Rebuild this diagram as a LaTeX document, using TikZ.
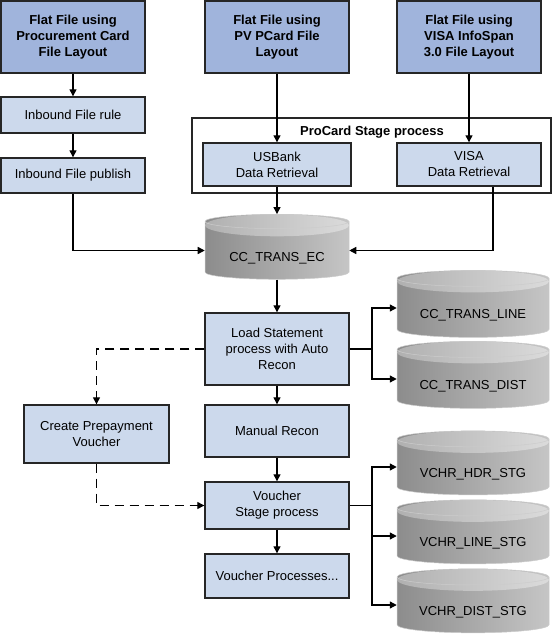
\documentclass[tikz,border=0pt]{standalone}
\usepackage{fontspec}
\setmainfont{Liberation Sans}
\usetikzlibrary{shapes.geometric,arrows.meta,calc}

\definecolor{fileblue}{RGB}{160,180,220}
\definecolor{procblue}{RGB}{204,217,236}

\tikzset{
  filebox/.style={rectangle,draw=black!85,line width=1.4pt,fill=fileblue,
    minimum width=144pt,inner sep=0pt,align=center,
    font=\bfseries\fontsize{13}{16}\selectfont},
  procbox/.style={rectangle,draw=black!85,line width=1.4pt,fill=procblue,
    minimum width=144pt,inner sep=0pt,align=center,
    font=\fontsize{13}{16}\selectfont},
  drum/.style={cylinder,shape border rotate=90,aspect=0.15,
    minimum width=152pt,inner sep=0pt,draw=gray!40,line width=0.5pt,
    left color=gray!90,right color=gray!45,
    text height=24pt,text depth=3pt,
    font=\fontsize{13}{16}\selectfont,
    path picture={\shade[left color=gray!62,right color=gray!28] let \p1=(path picture bounding box.north west),
      \p2=(path picture bounding box.north east) in
      ($(\p1)!0.5!(\p2)+(0,-11pt)$) ellipse [x radius={0.5*(\x2-\x1)},y radius=11pt];}},
  flow/.style={line width=1.3pt,-{Triangle[length=7pt,width=7pt]}},
  dashline/.style={dash pattern=on 9pt off 6pt},
}

\begin{document}
\begin{tikzpicture}[x=1pt,y=-1pt]

      \useasboundingbox (0,0) rectangle (553,639);

      % stage frame
      \node[draw=black!85,line width=1.4pt,minimum width=359pt,minimum height=75pt] (stage) at (371.5,155.5) {};
      \node[font=\bfseries\fontsize{13}{16}\selectfont] (stagetitle) at (372,132) {ProCard Stage process};

      \begin{scope}[every node/.style={filebox,minimum height=72pt}]
        \node (f1) at (73,37)  {Flat File using\\Procurement Card\\File Layout};
        \node (f2) at (277,37) {Flat File using\\PV PCard File\\Layout};
        \node (f3) at (469,37) {Flat File using\\VISA InfoSpan\\3.0 File Layout};
      \end{scope}

      \begin{scope}[every node/.style={procbox}]
        \node (rule) at (73,115)    [minimum height=36pt] {Inbound File rule};
        \node (pub)  at (73,175.5)  [minimum height=35pt] {Inbound File publish};
        \node (us)   at (277,164.5) [minimum height=43pt,minimum width=148pt] {USBank\\Data Retrieval};
        \node (visa) at (469,164.5) [minimum height=43pt] {VISA\\Data Retrieval};
        \node (load) at (277,349)   [minimum height=72pt] {Load Statement\\process with Auto\\Recon};
        \node (prep) at (96.5,434)  [minimum height=58pt,minimum width=145pt] {Create Prepayment\\Voucher};
        \node (man)  at (277,431)   [minimum height=52pt] {Manual Recon};
        \node (vst)  at (277,505.5) [minimum height=47pt] {Voucher\\Stage process};
        \node (vpr)  at (277,576)   [minimum height=44pt] {Voucher Processes...};
      \end{scope}

      \begin{scope}[every node/.style={drum}]
        \node (ec) at (277,250.5) [minimum height=65pt,minimum width=144pt] {CC\_TRANS\_EC};
        \node (tl) at (473,308) [minimum height=67pt] {CC\_TRANS\_LINE};
        \node (td) at (473,379) [minimum height=67pt] {CC\_TRANS\_DIST};
        \node (vh) at (473,467) [minimum height=64pt] {VCHR\_HDR\_STG};
        \node (vl) at (473,536) [minimum height=64pt] {VCHR\_LINE\_STG};
        \node (vd) at (473,605) [minimum height=64pt] {VCHR\_DIST\_STG};
      \end{scope}

      \coordinate (b1) at (372,349);
      \coordinate (b2) at (372,505.5);

      \draw[flow] (f1) -- (rule);
      \draw[flow] (rule) -- (pub);
      \draw[flow] (f2) -- (us);
      \draw[flow] (f3) -- (visa);
      \draw[flow] (pub.south) |- (ec.west);
      \draw[flow] ([xshift=24pt]visa.south) |- (ec.east);
      \draw[flow] (us) -- (ec);
      \draw[flow] (ec) -- (load);
      \draw[line width=1.3pt] (load.east) -- (b1);
      \draw[flow] (b1) |- (tl.west);
      \draw[flow] (b1) |- (td.west);
      \draw[flow,dashline] (load.west) -| (prep.north);
      \draw[flow] (load) -- (man);
      \draw[flow] (man) -- (vst);
      \draw[flow] (vst) -- (vpr);
      \draw[flow,dashline] (prep.south) |- (vst.west);
      \draw[line width=1.3pt] (vst.east) -- (b2);
      \draw[flow] (b2) |- (vh.west);
      \draw[flow] (b2) |- (vl.west);
      \draw[flow] (b2) |- (vd.west);

    \end{tikzpicture}
\end{document}
